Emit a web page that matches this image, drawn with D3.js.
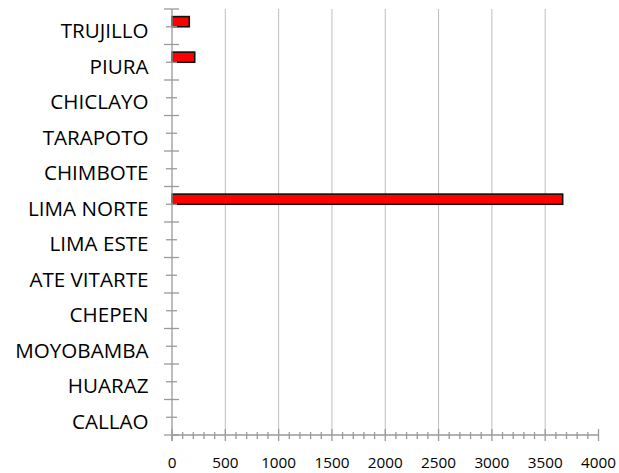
<!DOCTYPE html>
<html>
<head>
<meta charset="utf-8">
<script src="https://cdn.jsdelivr.net/npm/d3@7"></script>
<style>
  html, body { margin: 0; padding: 0; background: #fff; }
  svg { display: block; }
</style>
</head>
<body>
<svg id="chart" width="619" height="473"></svg>
<script>
const categories = ["TRUJILLO","PIURA","CHICLAYO","TARAPOTO","CHIMBOTE","LIMA NORTE","LIMA ESTE","ATE VITARTE","CHEPEN","MOYOBAMBA","HUARAZ","CALLAO"];
const values = [162, 213, 0, 0, 0, 3664, 0, 0, 0, 0, 0, 0];
const xTicks = [0, 500, 1000, 1500, 2000, 2500, 3000, 3500, 4000];
const series = ["s1", "s2"];

(function () {
const svg = d3.select("#chart");
const mLeft = 172, mRight = 598.5, mTop = 9, mBottom = 435;
const font = "'Open Sans', sans-serif";

const x = d3.scaleLinear().domain([0, 4000]).range([mLeft, mRight]);
const y = d3.scaleBand().domain(categories).range([mTop, mBottom]).padding(0);
const ySub = d3.scaleBand().domain(series).range([0, y.bandwidth()]).paddingInner(0).paddingOuter(0.75);

const gridCol = "#bdbdbd", axisCol = "#9a9a9a";

// gridlines
svg.append("g").selectAll("line").data(xTicks.filter(t => t > 0 && t < 4000)).join("line")
  .attr("x1", d => x(d)).attr("x2", d => x(d))
  .attr("y1", mTop).attr("y2", mBottom)
  .attr("stroke", gridCol).attr("stroke-width", 1);

// bars
const data = categories.map((c, i) => ({c, v: values[i]})).filter(d => d.v > 0);
svg.append("g").selectAll("rect").data(data).join("rect")
  .attr("x", x(0))
  .attr("y", d => y(d.c) + ySub("s1"))
  .attr("width", d => x(d.v) - x(0))
  .attr("height", ySub.bandwidth())
  .attr("fill", "#ff0000")
  .attr("stroke", "#111").attr("stroke-width", 1.6);

// left axis line and ticks
const ax = svg.append("g").attr("stroke", axisCol).attr("stroke-width", 1.3);
ax.append("line").attr("x1", x(0)).attr("x2", x(0)).attr("y1", mTop).attr("y2", mBottom + 6);
const boundaries = categories.map(c => y(c)).concat([mBottom]);
ax.selectAll(".maj").data(boundaries).join("line").attr("class", "maj")
  .attr("x1", x(0) - 8).attr("x2", x(0) + 7)
  .attr("y1", d => d).attr("y2", d => d);
ax.selectAll(".min").data(categories).join("line").attr("class", "min")
  .attr("x1", x(0) - 6).attr("x2", x(0) + 5)
  .attr("y1", d => y(d) + y.bandwidth() / 2).attr("y2", d => y(d) + y.bandwidth() / 2);

// bottom axis
ax.append("line").attr("x1", x(0)).attr("x2", x(4000)).attr("y1", mBottom).attr("y2", mBottom);
const minor = d3.range(0, 4001, 100).filter(v => v % 500 !== 0);
ax.selectAll(".bmin").data(minor).join("line").attr("class", "bmin")
  .attr("x1", d => x(d)).attr("x2", d => x(d))
  .attr("y1", mBottom - 3).attr("y2", mBottom + 4);
ax.selectAll(".bmaj").data(xTicks).join("line").attr("class", "bmaj")
  .attr("x1", d => x(d)).attr("x2", d => x(d))
  .attr("y1", mBottom - 6).attr("y2", mBottom + 6);

// category labels
svg.append("g").selectAll("text").data(categories).join("text")
  .attr("x", 148.5)
  .attr("y", d => y(d) + y.bandwidth() / 2 + 11.7)
  .attr("text-anchor", "end")
  .attr("font-family", font).attr("font-size", 20.6).attr("fill", "#000")
  .text(d => d);

// x tick labels
svg.append("g").selectAll("text").data(xTicks).join("text")
  .attr("x", d => x(d))
  .attr("y", 468)
  .attr("text-anchor", "middle")
  .attr("font-family", font).attr("font-size", 15.3).attr("fill", "#000")
  .text(d => d);
})();
</script>
</body>
</html>
